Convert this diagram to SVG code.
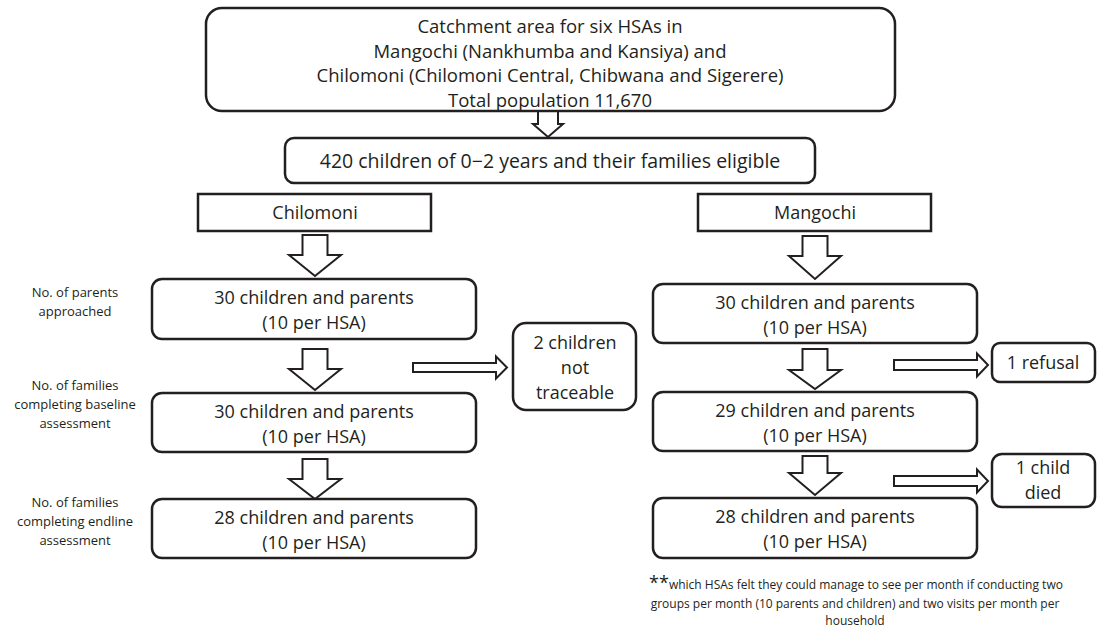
<svg xmlns="http://www.w3.org/2000/svg" width="1098" height="627" viewBox="0 0 1098 627">
<style>
.box{fill:#fff;stroke:#231f20;stroke-width:2.5}
.arr{fill:#fff;stroke:#231f20;stroke-width:2;stroke-linejoin:miter}
text{font-family:"Open Sans","Noto Sans",sans-serif;fill:#231f20}
.t{font-size:18px;text-anchor:middle}
.h{font-size:18.5px;text-anchor:middle}
.e{font-size:19.5px;text-anchor:middle}
.l{font-size:13px;text-anchor:middle}
.f{font-size:12px;text-anchor:middle}
</style>
<rect width="1098" height="627" fill="#fff"/>
<g id="connectors">
<polygon class="arr" points="538,110 558,110 558,124 563,124 548,137 533,124 538,124"/>
<polygon class="arr" points="302.5,235 327.5,235 327.5,255 341,255 315,276 289,255 302.5,255"/>
<polygon class="arr" points="302.5,349 327.5,349 327.5,369 341,369 315,390 289,369 302.5,369"/>
<polygon class="arr" points="302.5,459 327.5,459 327.5,479 341,479 315,499 289,479 302.5,479"/>
<polygon class="arr" points="802.5,236 827.5,236 827.5,256 841,256 815,279 789,256 802.5,256"/>
<polygon class="arr" points="802.5,349 827.5,349 827.5,370 841,370 815,389 789,370 802.5,370"/>
<polygon class="arr" points="802.5,456 827.5,456 827.5,473 841,473 815,495 789,473 802.5,473"/>
<polygon class="arr" points="413,363 496,363 496,356.5 507,367.5 496,378.5 496,372 413,372"/>
<polygon class="arr" points="894,360 977,360 977,353.5 988,365 977,376.5 977,370 894,370"/>
<polygon class="arr" points="894,476 977,476 977,469.5 988,481 977,492.5 977,486 894,486"/>
</g>
<g id="catchment">
<rect class="box" x="206" y="8" width="689" height="103" rx="16"/>
<text class="h" x="550" y="33">Catchment area for six HSAs in</text>
<text class="h" x="550" y="57.5">Mangochi (Nankhumba and Kansiya) and</text>
<text class="h" x="550" y="82">Chilomoni (Chilomoni Central, Chibwana and Sigerere)</text>
<text class="h" x="550" y="106.5">Total population 11,670</text>
</g>
<g id="eligible">
<rect class="box" x="285" y="138" width="530" height="45" rx="9"/>
<text class="e" x="550" y="167.5">420 children of 0−2 years and their families eligible</text>
</g>
<g id="chilomoni">
<rect class="box" x="198" y="194" width="233" height="37"/>
<text class="t" x="315" y="219">Chilomoni</text>
</g>
<g id="mangochi">
<rect class="box" x="698" y="194" width="233" height="37"/>
<text class="t" x="815" y="219">Mangochi</text>
</g>
<g id="c-approached">
<rect class="box" x="152" y="279" width="324" height="60" rx="10"/>
<text class="t" x="314" y="304">30 children and parents</text>
<text class="t" x="314" y="329">(10 per HSA)</text>
</g>
<g id="c-baseline">
<rect class="box" x="152" y="393" width="324" height="59" rx="10"/>
<text class="t" x="314" y="418">30 children and parents</text>
<text class="t" x="314" y="443">(10 per HSA)</text>
</g>
<g id="c-endline">
<rect class="box" x="152" y="499" width="324" height="59" rx="10"/>
<text class="t" x="314" y="524">28 children and parents</text>
<text class="t" x="314" y="549">(10 per HSA)</text>
</g>
<g id="m-approached">
<rect class="box" x="653" y="284" width="324" height="59" rx="10"/>
<text class="t" x="815" y="309">30 children and parents</text>
<text class="t" x="815" y="334">(10 per HSA)</text>
</g>
<g id="m-baseline">
<rect class="box" x="653" y="392" width="324" height="59" rx="10"/>
<text class="t" x="815" y="417">29 children and parents</text>
<text class="t" x="815" y="442">(10 per HSA)</text>
</g>
<g id="m-endline">
<rect class="box" x="653" y="498" width="324" height="60" rx="10"/>
<text class="t" x="815" y="523">28 children and parents</text>
<text class="t" x="815" y="548">(10 per HSA)</text>
</g>
<g id="not-traceable">
<rect class="box" x="513" y="323" width="123" height="87" rx="13"/>
<text class="t" x="575" y="349">2 children</text>
<text class="t" x="575" y="374">not</text>
<text class="t" x="575" y="399">traceable</text>
</g>
<g id="refusal">
<rect class="box" x="992" y="343" width="103" height="39" rx="8"/>
<text class="t" x="1043" y="369">1 refusal</text>
</g>
<g id="died">
<rect class="box" x="992" y="454" width="103" height="53" rx="10"/>
<text class="t" x="1043" y="474">1 child</text>
<text class="t" x="1043" y="499">died</text>
</g>
<g id="labels">
<text class="l" x="75" y="297">No. of parents</text>
<text class="l" x="75" y="316">approached</text>
<text class="l" x="75" y="390">No. of families</text>
<text class="l" x="75" y="409">completing baseline</text>
<text class="l" x="75" y="428">assessment</text>
<text class="l" x="75" y="507">No. of families</text>
<text class="l" x="75" y="526">completing endline</text>
<text class="l" x="75" y="545">assessment</text>
</g>
<g id="footnote">
<text class="f" x="856" y="589"><tspan font-size="18">**</tspan>which HSAs felt they could manage to see per month if conducting two</text>
<text class="f" x="855" y="608">groups per month (10 parents and children) and two visits per month per</text>
<text class="f" x="855" y="625">household</text>
</g>
</svg>
